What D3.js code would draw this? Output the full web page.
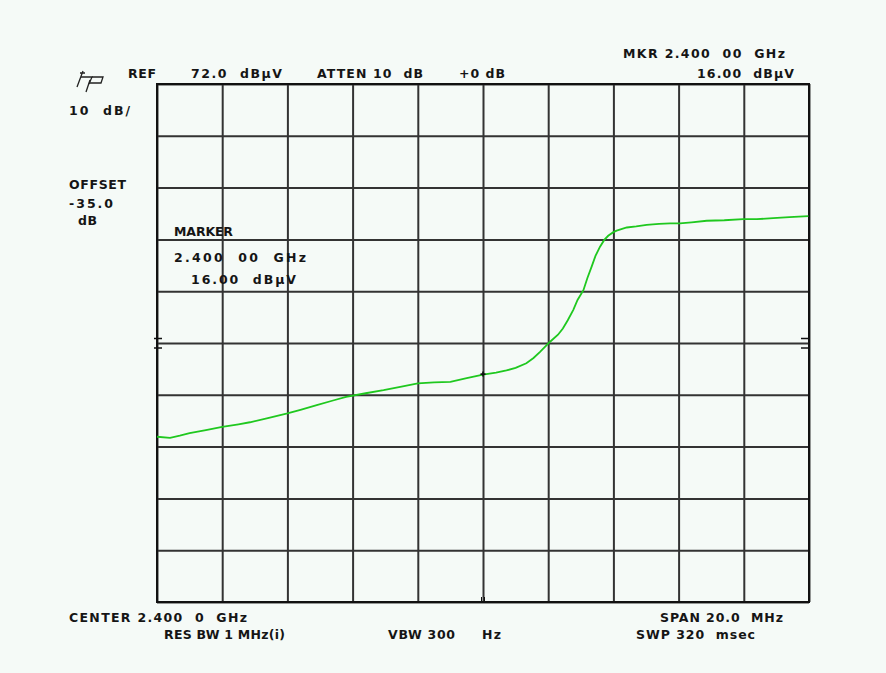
<!DOCTYPE html>
<html>
<head>
<meta charset="utf-8">
<script src="https://cdn.jsdelivr.net/npm/d3@7"></script>
<style>
  body { margin: 0; background: #f5faf7; }
  svg { display: block; }
  .lbl { font-family: "DejaVu Sans", sans-serif; font-weight: bold; font-size: 12.5px; fill: #151515; white-space: pre; }
</style>
</head>
<body>
<svg id="chart" width="886" height="673"></svg>
<script>
// Trace: offset from centre (MHz) and level (dBuV)
var freqOffsets = [-10.0, -9.6, -9.3, -9.0, -8.5, -8.0, -7.5, -7.15, -6.6, -6.0,
    -5.6, -5.1, -4.6, -4.2, -3.6, -3.05, -2.5, -2.0, -1.5, -1.0,
    -0.5, 0.0, 0.4, 0.72, 1.0, 1.33, 1.55, 1.75, 2.05, 2.3,
    2.45, 2.6, 2.77, 2.9, 3.08, 3.2, 3.33, 3.45, 3.59, 3.72,
    3.84, 4.0, 4.1, 4.41, 4.7, 5.02, 5.4, 5.74, 6.04, 6.4,
    6.86, 7.4, 7.98, 8.4, 8.9, 9.4, 9.98];
var levels = [3.9, 3.7, 4.1, 4.6, 5.2, 5.8, 6.3, 6.7, 7.5, 8.4,
    9.1, 10.0, 10.9, 11.6, 12.3, 12.9, 13.6, 14.2, 14.4, 14.5,
    15.2, 15.9, 16.3, 16.7, 17.2, 18.1, 19.1, 20.3, 22.2, 23.6,
    24.8, 26.4, 28.4, 30.3, 32.2, 34.5, 36.7, 38.8, 40.6, 41.9,
    42.7, 43.4, 43.7, 44.3, 44.5, 44.8, 45.0, 45.1, 45.1, 45.3,
    45.6, 45.7, 45.9, 45.9, 46.1, 46.3, 46.5];

var refLevel = 72.0;      // dBuV
var dbPerDiv = 10;
var spanMHz = 20;
var markerOffset = 0.0;   // MHz
var markerLevel = 16.0;   // dBuV

// Screen annotations: [text, x, baseline, width]
var annotations = [
    ["REF", 128, 78, 28],
    ["72.0  dB\u00b5V", 191, 78, 91],
    ["ATTEN 10  dB", 317, 78, 106],
    ["+0 dB", 459, 78, 46],
    ["MKR 2.400  00  GHz", 623, 58, 162],
    ["16.00  dB\u00b5V", 697, 78, 97],
    ["10  dB/", 69, 115, 61],
    ["OFFSET", 69, 189, 57],
    ["-35.0", 69, 208, 44],
    ["dB", 78, 225, 19],
    ["MARKER", 174, 236, 59],
    ["2.400  00  GHz", 174, 262, 132],
    ["16.00  dB\u00b5V", 191, 284, 105],
    ["CENTER 2.400  0  GHz", 69, 622, 178],
    ["SPAN 20.0  MHz", 660, 622, 123],
    ["RES BW 1 MHz(i)", 164, 639, 121],
    ["VBW 300", 388, 639, 67],
    ["Hz", 482, 639, 19],
    ["SWP 320  msec", 636, 639, 119]
];

var svg = d3.select("#chart");
var gridLeft = 157, gridRight = 809, gridTop = 84, gridBottom = 602;

var x = d3.scaleLinear().domain([-spanMHz / 2, spanMHz / 2]).range([gridLeft, gridRight]);
var y = d3.scaleLinear().domain([refLevel - 10 * dbPerDiv, refLevel]).range([gridBottom, gridTop]);

// graticule
var xTicks = d3.range(-spanMHz / 2, spanMHz / 2 + 0.001, spanMHz / 10);
var yTicks = d3.range(refLevel - 10 * dbPerDiv, refLevel + 0.001, dbPerDiv);

svg.append("g")
    .attr("transform", "translate(0," + gridBottom + ")")
    .call(d3.axisBottom(x).tickValues(xTicks).tickSize(-(gridBottom - gridTop)).tickFormat(""))
    .call(g => g.select(".domain").remove())
    .selectAll("line").attr("stroke", "#333").attr("stroke-width", 2);

svg.append("g")
    .attr("transform", "translate(" + gridLeft + ",0)")
    .call(d3.axisLeft(y).tickValues(yTicks).tickSize(-(gridRight - gridLeft)).tickFormat(""))
    .call(g => g.select(".domain").remove())
    .selectAll("line").attr("stroke", "#333").attr("stroke-width", 2);

svg.append("rect")
    .attr("x", gridLeft).attr("y", gridTop)
    .attr("width", gridRight - gridLeft).attr("height", gridBottom - gridTop)
    .attr("fill", "none").attr("stroke", "#111").attr("stroke-width", 2);

// small reference ticks on both edges at the centre line
var midY = y(refLevel - 5 * dbPerDiv);
[-4.5, 5].forEach(function (d) {
    svg.append("line").attr("x1", gridLeft - 3).attr("x2", gridLeft + 5)
        .attr("y1", midY + d).attr("y2", midY + d).attr("stroke", "#111").attr("stroke-width", 1.5);
    svg.append("line").attr("x1", gridRight - 8).attr("x2", gridRight)
        .attr("y1", midY + d).attr("y2", midY + d).attr("stroke", "#111").attr("stroke-width", 1.5);
});
// centre tick at the bottom
[-1.5, 1.5].forEach(function (d) {
    svg.append("line").attr("x1", x(0) + d).attr("x2", x(0) + d)
        .attr("y1", gridBottom - 5).attr("y2", gridBottom).attr("stroke", "#111").attr("stroke-width", 1);
});

// trace
var line = d3.line()
    .x(function (d, i) { return x(freqOffsets[i]); })
    .y(function (d) { return y(d); });

svg.append("path")
    .datum(levels)
    .attr("d", line)
    .attr("fill", "none")
    .attr("stroke", "#1fc81f")
    .attr("stroke-width", 1.8);

// marker
svg.append("path")
    .attr("d", d3.symbol(d3.symbolCross, 14)())
    .attr("transform", "translate(" + x(markerOffset) + "," + y(markerLevel) + ")")
    .attr("fill", "#111");

// hp logo
var logo = svg.append("g").attr("fill", "none").attr("stroke", "#222").attr("stroke-width", 1.3);
logo.append("path").attr("d", "M83,71 L77,87 M80,73 L85,73");
logo.append("path").attr("d", "M81,77 L92,77 L89,84");
logo.append("path").attr("d", "M92,77 L103,77 L101,83 L90,83 M90,80 L86,92");

// texts
svg.selectAll(".lbl")
    .data(annotations)
    .enter().append("text")
    .attr("class", "lbl")
    .attr("x", d => d[1])
    .attr("y", d => d[2])
    .attr("textLength", d => d[3])
    .attr("lengthAdjust", "spacing")
    .text(d => d[0]);
</script>
</body>
</html>
